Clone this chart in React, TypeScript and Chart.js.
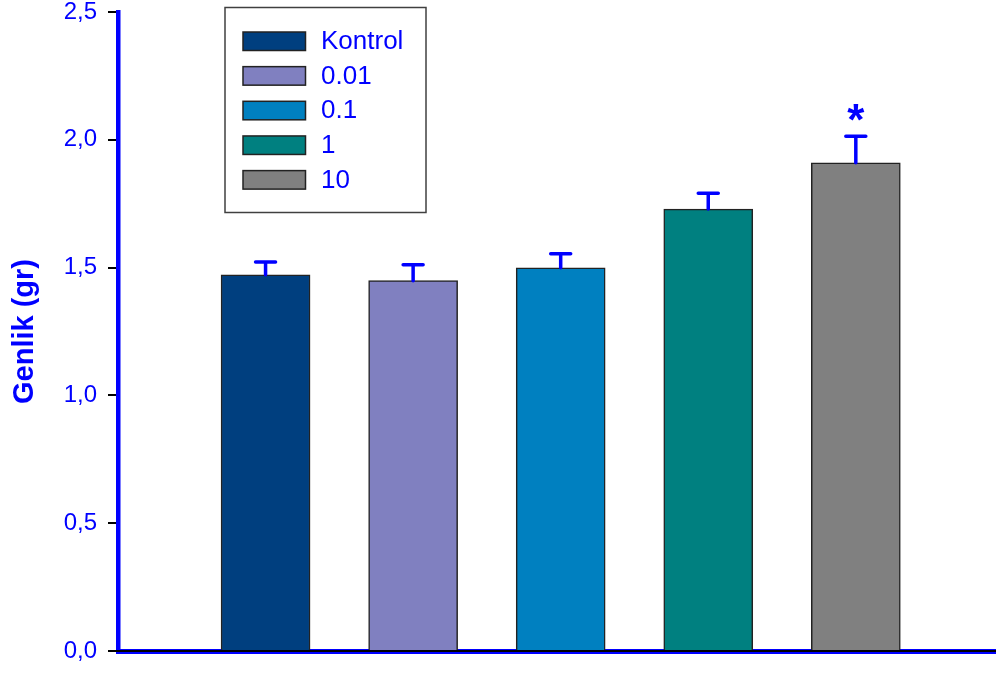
import React, { useEffect, useRef } from "react";
import { Chart, registerables } from "chart.js";

Chart.register(...registerables);

const categories = ["Kontrol", "0.01", "0.1", "1", "10"];
const values = [1.472, 1.449, 1.499, 1.729, 1.91];
const errors = [0.05, 0.062, 0.055, 0.062, 0.104];
const significance = ["", "", "", "", "*"];
const barColors = ["#003f7f", "#8080c0", "#0080c0", "#008080", "#808080"];
const yTickLabels = ["0,0", "0,5", "1,0", "1,5", "2,0", "2,5"];
const yTitle = "Genlik (gr)";

const BLUE = "#0000ff";

const errorBarPlugin = {
  id: "errorBars",
  afterDatasetsDraw(chart: any) {
    const ctx = chart.ctx;
    const yScale = chart.scales.y;
    const meta = chart.getDatasetMeta(0);
    ctx.save();
    const y0 = yScale.getPixelForValue(0);
    ctx.strokeStyle = "#000";
    ctx.lineWidth = 2;
    ctx.beginPath();
    ctx.moveTo(chart.chartArea.left - 10, y0);
    ctx.lineTo(chart.chartArea.right, y0);
    ctx.stroke();

    meta.data.forEach((el: any, i: number) => {
      const x = el.x;
      const yTop = yScale.getPixelForValue(values[i]);
      const yErr = yScale.getPixelForValue(values[i] + errors[i]);
      ctx.strokeStyle = BLUE;
      ctx.lineWidth = 3.5;
      ctx.lineCap = "round";
      ctx.beginPath();
      ctx.moveTo(x, yTop);
      ctx.lineTo(x, yErr);
      ctx.moveTo(x - 10, yErr);
      ctx.lineTo(x + 10, yErr);
      ctx.stroke();
      if (significance[i]) {
        ctx.fillStyle = BLUE;
        ctx.font = "bold 44px 'Liberation Sans', Arial, sans-serif";
        ctx.textAlign = "center";
        ctx.textBaseline = "alphabetic";
        ctx.fillText(significance[i], x, yErr - 1);
      }
    });
    ctx.restore();
  },
};

const legendPlugin = {
  id: "boxLegend",
  afterDraw(chart: any) {
    const ctx = chart.ctx;
    ctx.save();
    ctx.strokeStyle = "#404040";
    ctx.lineWidth = 1.5;
    ctx.fillStyle = "#ffffff";
    ctx.fillRect(225, 7.5, 201, 205);
    ctx.strokeRect(225, 7.5, 201, 205);
    categories.forEach((label, i) => {
      const top = 32 + i * 34.65;
      ctx.fillStyle = barColors[i];
      ctx.fillRect(243, top, 62.5, 18.5);
      ctx.strokeStyle = "#222";
      ctx.lineWidth = 1.5;
      ctx.strokeRect(243, top, 62.5, 18.5);
      ctx.fillStyle = BLUE;
      ctx.font = "26px 'Liberation Sans', Arial, sans-serif";
      ctx.textAlign = "left";
      ctx.textBaseline = "middle";
      ctx.fillText(label, 321, top + 10);
    });
    ctx.restore();
  },
};

export default function App() {
  const canvasRef = useRef<HTMLCanvasElement | null>(null);

  useEffect(() => {
    if (!canvasRef.current) return;
    const chart = new Chart(canvasRef.current, {
      type: "bar",
      data: {
        datasets: [
          {
            label: "Genlik",
            data: values.map((v, i) => ({ x: i, y: v })),
            backgroundColor: barColors,
            borderColor: "#222",
            borderWidth: 1.5,
            barThickness: 89,
          },
        ],
      },
      plugins: [errorBarPlugin, legendPlugin],
      options: {
        animation: false,
        responsive: true,
        maintainAspectRatio: false,
        layout: { padding: { top: 0, right: 0, left: 0, bottom: 0 } },
        plugins: {
          legend: { display: false },
          tooltip: { enabled: false },
        },
        scales: {
          x: {
            type: "linear",
            offset: false,
            min: -1.0,
            max: 4.95,
            grid: { display: false },
            ticks: { display: false },
            border: { display: true, color: BLUE, width: 5 },
            afterFit(scale: any) {
              scale.height = 22;
              scale.paddingLeft = 0;
              scale.paddingRight = 0;
            },
          },
          y: {
            min: 0,
            max: 2.5,
            ticks: {
              stepSize: 0.5,
              color: BLUE,
              padding: 11,
              font: { family: "'Liberation Sans', Arial, sans-serif", size: 24 },
              callback: (_v: any, idx: number) => yTickLabels[idx],
            },
            grid: {
              drawOnChartArea: false,
              drawTicks: true,
              tickLength: 10,
              color: "#000",
              lineWidth: 2,
            },
            border: { display: true, color: BLUE, width: 4.5 },
            title: {
              display: true,
              text: yTitle,
              color: BLUE,
              padding: { top: 8, bottom: 0 },
              font: { family: "'Liberation Sans', Arial, sans-serif", size: 29, weight: "bold" },
            },
            afterFit(scale: any) {
              scale.width = 118;
              scale.paddingTop = 12;
              scale.paddingBottom = 0;
            },
          },
        },
      },
    } as any);
    return () => chart.destroy();
  }, []);

  return (
    <div style={{ position: "absolute", left: 0, top: 0, width: 996, height: 673, background: "#fff" }}>
      <canvas ref={canvasRef} style={{ width: 996, height: 673 }} />
    </div>
  );
}
